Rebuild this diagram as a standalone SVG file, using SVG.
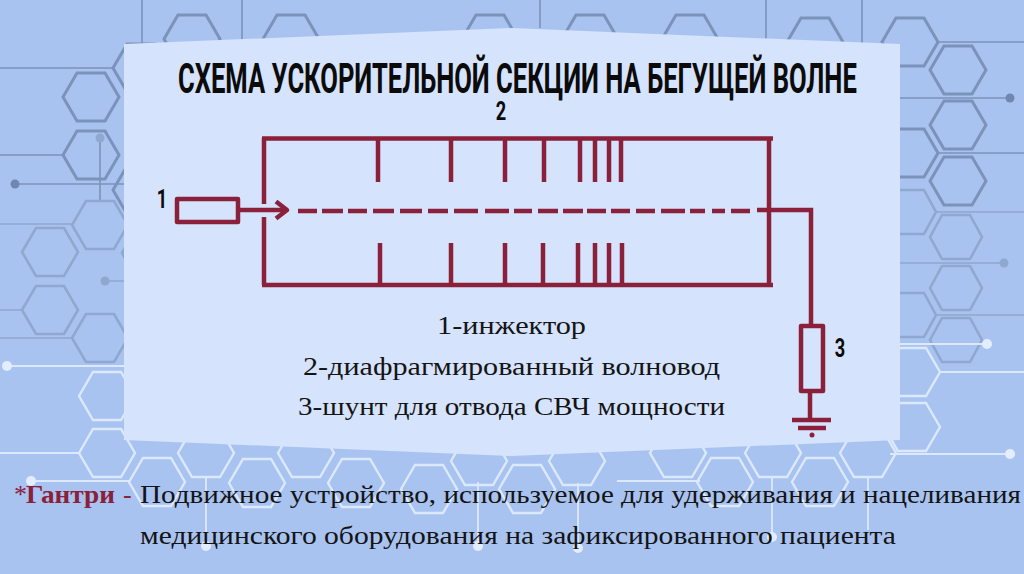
<svg xmlns="http://www.w3.org/2000/svg" width="1024" height="574" viewBox="0 0 1024 574">
<style>
.d{fill:none;stroke:#7b93ba;stroke-width:3}
.m{fill:none;stroke:#8fa8d0;stroke-width:2.6}
.l{fill:none;stroke:#dce8fd;stroke-width:2.4}
.dl{stroke:#7b93ba;stroke-width:1.6;fill:none}
.ml{stroke:#8fa8d0;stroke-width:1.4;fill:none}
.ll{stroke:#dce8fd;stroke-width:1.8;fill:none}
.df{fill:#6f88b2}.mf{fill:#8fa8d0}.lf{fill:#e4edfd}
.w{fill:none;stroke:#8a2039;stroke-width:4.5;stroke-linecap:butt}
.wr{fill:none;stroke:#8a2039;stroke-width:4.5;stroke-linejoin:round}
.n{font-family:"Roboto","Liberation Sans",sans-serif;font-weight:700;fill:#0b0b0b}
.b{font-family:"Liberation Serif","DejaVu Serif",serif;font-size:26px;fill:#141414}
</style>
<defs>
<polygon id="h" points="-28,0 -14,-24 14,-24 28,0 14,24 -14,24"/>
<polygon id="s" points="-26,0 -14,-22 14,-22 26,0 14,22 -14,22"/>
</defs>
<rect id="background" width="1024" height="574" fill="#a9c3f1"/>
<g id="pattern">
<g>
<path class="dl" d="M142 0V44M242 0V40M540 0V28M766 0V40M862 0V44M0 68H113M0 155H63M15 184H124M100 138V201M937 42H1024M900 98H1010M937 153H1024"/>
<path class="ml" d="M0 224H73M0 310H23M0 338H73M105 281H124M937 212H1024M900 263H1004M937 315H1024"/>
<circle class="df" cx="15" cy="184" r="4.500"/><circle class="df" cx="1010" cy="98" r="4.500"/><circle class="mf" cx="100" cy="138" r="4.500"/><circle class="mf" cx="105" cy="281" r="4.500"/><circle class="mf" cx="1004" cy="263" r="4.500"/>
<use href="#h" class="d" x="91" y="97"/><use href="#h" class="d" x="91" y="155"/><use href="#h" class="d" x="141" y="68"/><use href="#h" class="d" x="141" y="190"/>
<use href="#h" class="d" x="192" y="39"/><use href="#h" class="d" x="291" y="39"/><use href="#h" class="d" x="490" y="39"/><use href="#h" class="d" x="590" y="39"/><use href="#h" class="d" x="690" y="39"/><use href="#h" class="d" x="815" y="42"/><use href="#h" class="d" x="910" y="42"/>
<use href="#h" class="d" x="958" y="70"/><use href="#h" class="d" x="958" y="125"/><use href="#h" class="d" x="958" y="181"/><use href="#h" class="d" x="910" y="153"/>
<use href="#h" class="m" x="100" y="225"/><use href="#h" class="m" x="50" y="252"/><use href="#h" class="m" x="50" y="310"/><use href="#h" class="m" x="100" y="338"/><use href="#h" class="m" x="150" y="253"/>
<use href="#s" class="m" x="910" y="212"/><use href="#s" class="m" x="956" y="237"/><use href="#s" class="m" x="956" y="288"/><use href="#s" class="m" x="910" y="315"/><use href="#s" class="m" x="956" y="340"/>
</g>
<g>
<path class="ll" d="M7 366H124M0 453H80M31 481H130M206 477V546M478 482V546M578 483V548M772 477V537M868 477V530M617 481H700M900 344H987M940 372H1024M890 454H1010"/>
<circle class="lf" cx="7" cy="366" r="5"/><circle class="lf" cx="31" cy="481" r="5"/><circle class="lf" cx="206" cy="546" r="5"/><circle class="lf" cx="478" cy="546" r="5"/><circle class="lf" cx="578" cy="548" r="5"/><circle class="lf" cx="772" cy="537" r="5"/><circle class="lf" cx="987" cy="344" r="5"/><circle class="lf" cx="1010" cy="454" r="5"/>
<use href="#h" class="l" x="107" y="396"/><use href="#h" class="l" x="107" y="453"/><use href="#h" class="l" x="157" y="482"/><use href="#h" class="l" x="206" y="453"/><use href="#h" class="l" x="257" y="483"/><use href="#h" class="l" x="306" y="453"/><use href="#h" class="l" x="356" y="483"/><use href="#h" class="l" x="429" y="489"/><use href="#h" class="l" x="479" y="461"/><use href="#h" class="l" x="527" y="489"/><use href="#h" class="l" x="577" y="461"/><use href="#h" class="l" x="678" y="453"/><use href="#h" class="l" x="725" y="482"/><use href="#h" class="l" x="773" y="453"/><use href="#h" class="l" x="820" y="482"/><use href="#h" class="l" x="868" y="453"/><use href="#h" class="l" x="912" y="372"/><use href="#h" class="l" x="912" y="427"/>
</g>
</g>
<polygon id="panel" points="124,44 512,28 900,44 900,440 512,456 124,440" fill="#d5e3fc"/>
<text id="title" class="n" font-size="41" transform="translate(178 93) scale(0.624 1.02)">СХЕМА УСКОРИТЕЛЬНОЙ СЕКЦИИ НА БЕГУЩЕЙ ВОЛНЕ</text>
<g id="connectors">
<path class="w" d="M238 210H284"/>
<path class="w" d="M276 201.500L287 210L276 218.500" stroke-linecap="round" stroke-linejoin="round"/>
<path class="w" d="M298 211H317M322 211H343M348 211H367M373 211H394M400 211H422M428 211H448M454 211H478M485 211H509M514 211H532M538 211H558M563 211H583M587 211H606M611 211H630M636 211H655M661 211H685M690 211H705M712 211H725M731 211H750"/>
<path class="w" d="M757 210H811V326"/>
<path class="w" d="M810 391V420"/>
</g>
<g id="injector"><rect class="wr" x="177" y="199" width="61" height="23"/><text class="n" font-size="26" text-anchor="middle" transform="translate(162 208) scale(0.7 1)">1</text></g>
<g id="waveguide">
<path class="w" d="M262 138.500H773M264 138V204M264 217V285M262 285H773M769 138V285"/>
<path class="w" d="M378 138V182M451 138V182M505 138V182M544 138V182M580 138V182M595 138V182M609 138V182M621 138V182"/>
<path class="w" d="M380 243V285M451 243V285M505 243V285M543 243V285M578 243V285M595 243V285M609 243V285M622 243V285"/>
<text class="n" font-size="26" text-anchor="middle" transform="translate(501 120) scale(0.7 1)">2</text>
</g>
<g id="load">
<rect class="wr" x="801" y="326" width="22" height="65"/>
<path class="w" d="M792 420H831M798 428H826" stroke-linecap="round"/>
<circle cx="812" cy="435" r="2.500" fill="#8a2039"/>
<text class="n" font-size="26" text-anchor="middle" transform="translate(840 357) scale(0.7 1)">3</text>
</g>
<g id="legend">
<text class="b" x="437" y="334" textLength="149" lengthAdjust="spacingAndGlyphs">1-инжектор</text>
<text class="b" x="303" y="375" textLength="417" lengthAdjust="spacingAndGlyphs">2-диафрагмированный волновод</text>
<text class="b" x="298" y="415" textLength="427" lengthAdjust="spacingAndGlyphs">3-шунт для отвода СВЧ мощности</text>
</g>
<g id="note">
<text class="b" x="14" y="503" style="fill:#8a2039">*</text>
<text class="b" x="26" y="503" textLength="89" lengthAdjust="spacingAndGlyphs" style="fill:#8a2039;font-weight:700">Гантри</text>
<text class="b" x="123" y="503" style="fill:#8a2039">-</text>
<text class="b" x="140" y="503" textLength="881" lengthAdjust="spacingAndGlyphs">Подвижное устройство, используемое для удерживания и нацеливания</text>
<text class="b" x="140" y="544" textLength="756" lengthAdjust="spacingAndGlyphs">медицинского оборудования на зафиксированного пациента</text>
</g>
</svg>
